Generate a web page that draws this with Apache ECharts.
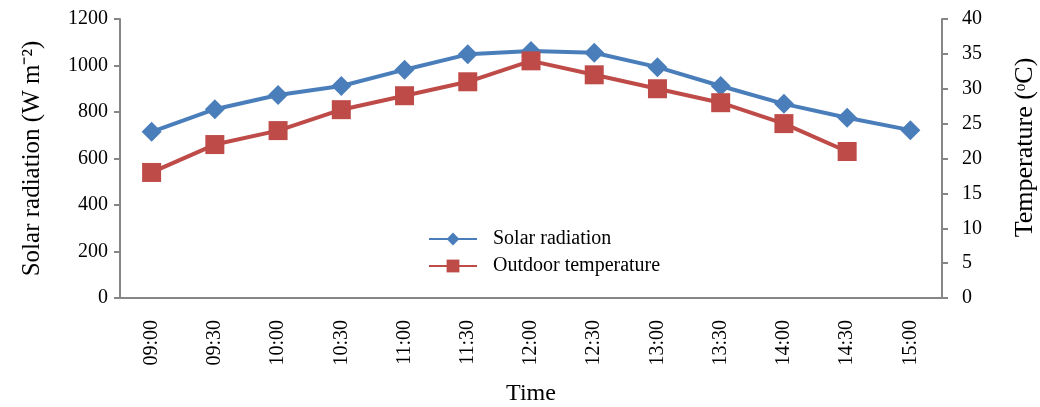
<!DOCTYPE html>
<html><head><meta charset="utf-8">
<script src="https://cdn.jsdelivr.net/npm/echarts@6/dist/echarts.min.js"></script>
<style>html,body{margin:0;padding:0;background:#fff}#c{width:1040px;height:407px}</style>
</head><body><div id="c"></div>
<script>
const categories = ['09:00','09:30','10:00','10:30','11:00','11:30','12:00','12:30','13:00','13:30','14:00','14:30','15:00'];
const solarRadiation = [715, 812, 873, 912, 982, 1048, 1062, 1055, 993, 912, 835, 775, 722];
const outdoorTemperature = [18, 22, 24, 27, 29, 31, 34, 32, 30, 28, 25, 21, null];
const font = 'Liberation Serif';
const axisColor = '#868686';
const chart = echarts.init(document.getElementById('c'));
chart.setOption({
  animation: false,
  textStyle: {fontFamily: font},
  grid: {left: 120, right: 98, top: 19, bottom: 109, containLabel: false, outerBoundsMode: 'none'},
  legend: {
    orient: 'vertical', left: 423, top: 224, itemGap: 7,
    itemWidth: 48, itemHeight: 16,
    textStyle: {fontFamily: font, fontSize: 20, color: '#000', padding: [0, 0, 0, 11]},
    data: ['Solar radiation', 'Outdoor temperature']
  },
  xAxis: {
    type: 'category', data: categories, boundaryGap: true,
    name: 'Time', nameLocation: 'middle', nameGap: 84,
    nameTextStyle: {fontFamily: font, fontSize: 24, color: '#000'},
    axisLine: {lineStyle: {color: axisColor, width: 2}},
    axisTick: {show: false},
    axisLabel: {rotate: 90, fontFamily: font, fontSize: 20, color: '#000', margin: 22}
  },
  yAxis: [{
    type: 'value', min: 0, max: 1200, interval: 200,
    name: 'Solar radiation (W m⁻²)', nameLocation: 'middle', nameGap: 75, nameRotate: 90,
    nameTextStyle: {fontFamily: font, fontSize: 25, color: '#000'},
    axisLine: {show: true, lineStyle: {color: axisColor, width: 2}},
    axisTick: {show: true, length: 6, lineStyle: {color: axisColor, width: 2}},
    splitLine: {show: false},
    axisLabel: {fontFamily: font, fontSize: 20, color: '#000', margin: 12, formatter: v => String(v)}
  }, {
    type: 'value', min: 0, max: 40, interval: 5, position: 'right',
    name: 'Temperature (ᵒC)', nameLocation: 'middle', nameGap: 70, nameRotate: 90,
    nameTextStyle: {fontFamily: font, fontSize: 26, color: '#000', padding: [0, 0, 0, 22]},
    axisLine: {show: true, lineStyle: {color: axisColor, width: 2}},
    axisTick: {show: true, length: 6, lineStyle: {color: axisColor, width: 2}},
    splitLine: {show: false},
    axisLabel: {fontFamily: font, fontSize: 20, color: '#000', margin: 20}
  }],
  series: [{
    name: 'Solar radiation', type: 'line', yAxisIndex: 0, data: solarRadiation,
    symbol: 'diamond', symbolSize: 20,
    lineStyle: {color: '#4A7EBB', width: 4},
    itemStyle: {color: '#4A7EBB'}
  }, {
    name: 'Outdoor temperature', type: 'line', yAxisIndex: 1, data: outdoorTemperature,
    symbol: 'rect', symbolSize: 19,
    lineStyle: {color: '#BE4B48', width: 4},
    itemStyle: {color: '#BE4B48'}
  }]
});
</script></body></html>
